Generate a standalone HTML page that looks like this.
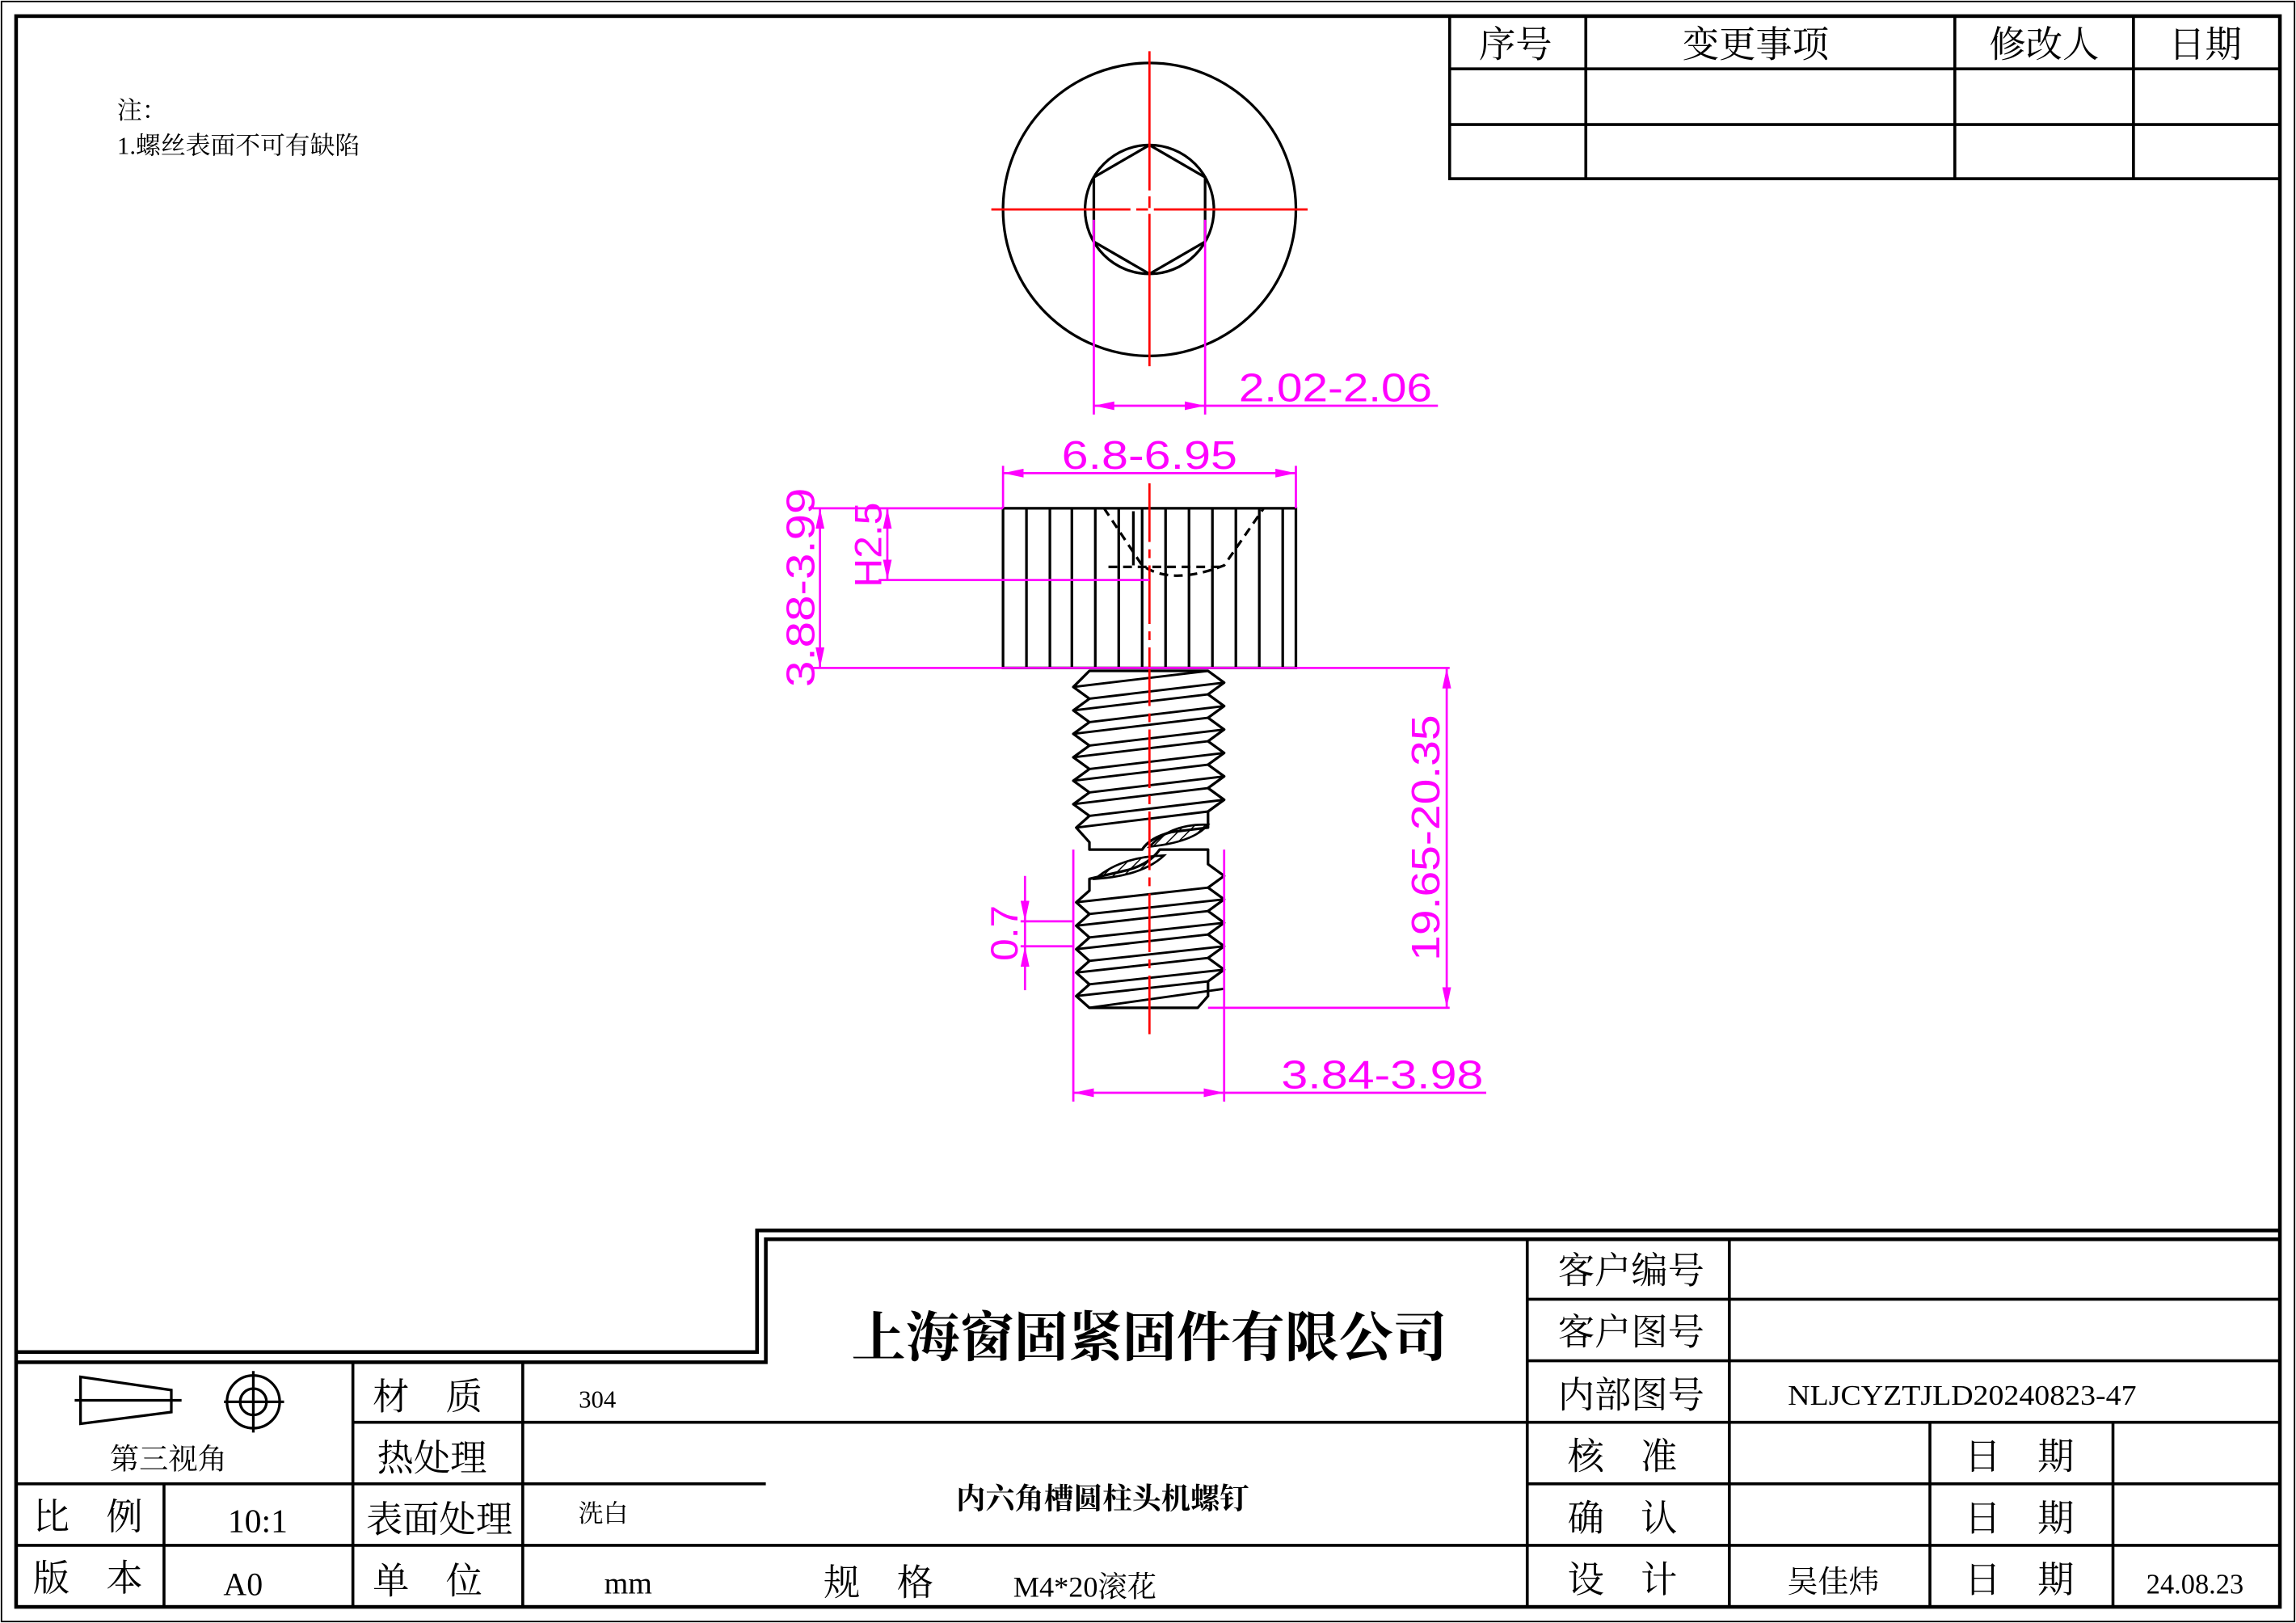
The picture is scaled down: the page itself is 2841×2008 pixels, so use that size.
<!DOCTYPE html>
<html><head><meta charset="utf-8">
<style>
html,body{margin:0;padding:0;background:#fff;}
svg{display:block;}
.cj{font-family:"Liberation Serif","Noto Serif CJK SC",serif;fill:#000;}
.dm{font-family:"Liberation Sans",sans-serif;fill:#ff00ff;}
</style></head><body>
<svg width="2841" height="2008" viewBox="0 0 1568 1108" preserveAspectRatio="none" xmlns="http://www.w3.org/2000/svg">
<defs>
<marker id="ae" viewBox="0 0 14 6" refX="14" refY="3" markerWidth="14" markerHeight="6" markerUnits="userSpaceOnUse" orient="auto"><path d="M0,0 L14,3 L0,6z" fill="#ff00ff"/></marker>
<marker id="as" viewBox="0 0 14 6" refX="0" refY="3" markerWidth="14" markerHeight="6" markerUnits="userSpaceOnUse" orient="auto"><path d="M14,0 L0,3 L14,6z" fill="#ff00ff"/></marker>
<pattern id="hatch" width="5" height="5" patternUnits="userSpaceOnUse" patternTransform="rotate(45)"><line x1="0" y1="0" x2="0" y2="5" stroke="#000" stroke-width="1.6"/></pattern>
</defs>
<rect width="1568" height="1108" fill="#fff"/>
<rect x="1" y="1" width="1566" height="1106" fill="none" stroke="#000" stroke-width="1"/>
<rect x="11" y="11" width="1546" height="1086" fill="none" stroke="#000" stroke-width="2.5"/>

<g stroke="#000" stroke-width="2" fill="none">
<rect x="990" y="11" width="567" height="111"/>
<line x1="990" y1="47" x2="1557" y2="47"/><line x1="990" y1="85" x2="1557" y2="85"/>
<line x1="1083" y1="11" x2="1083" y2="122"/><line x1="1335" y1="11" x2="1335" y2="122"/><line x1="1457" y1="11" x2="1457" y2="122"/>
</g>
<g class="cj" font-size="25" text-anchor="middle">
<text x="1035" y="39">序号</text><text x="1199" y="39">变更事项</text><text x="1396" y="39">修改人</text><text x="1506" y="39">日期</text>
</g>
<text class="cj" x="80" y="81" font-size="17">注：</text>
<text class="cj" x="80" y="105" font-size="17">1.螺丝表面不可有缺陷</text>

<g stroke="#000" stroke-width="2.5" fill="none">
<polyline points="11,923 517,923 517,840 1557,840"/>
<polyline points="11,930 523,930 523,846 1557,846"/>
</g>
<g stroke="#000" stroke-width="2" fill="none">
<line x1="11" y1="1013" x2="523" y2="1013"/>
<line x1="1043" y1="1013" x2="1557" y2="1013"/>
<line x1="11" y1="1055" x2="1557" y2="1055"/>
<line x1="241" y1="971" x2="1557" y2="971"/>
<line x1="112" y1="1013" x2="112" y2="1097"/>
<line x1="241" y1="930" x2="241" y2="1097"/>
<line x1="357" y1="930" x2="357" y2="1097"/>
<line x1="1043" y1="846" x2="1043" y2="1097"/>
<line x1="1181" y1="846" x2="1181" y2="1097"/>
<line x1="1043" y1="887" x2="1557" y2="887"/>
<line x1="1043" y1="929" x2="1557" y2="929"/>
<line x1="1318" y1="971" x2="1318" y2="1097"/>
<line x1="1443" y1="971" x2="1443" y2="1097"/>
</g>
<g stroke="#000" stroke-width="1.8" fill="none">
<polygon points="55,940 117,949 117,964 55,972"/>
<line x1="51" y1="956" x2="124" y2="956"/>
<circle cx="173" cy="957" r="18"/><circle cx="173" cy="957" r="9"/>
<line x1="153" y1="957" x2="194" y2="957"/><line x1="173" y1="936" x2="173" y2="978"/>
</g>
<g class="cj" text-anchor="middle">
<text x="115" y="1003" font-size="20">第三视角</text>
<text x="292" y="962" font-size="25">材　质</text>
<text x="295" y="1004" font-size="25">热处理</text>
<text x="300" y="1046" font-size="25">表面处理</text>
<text x="292" y="1088" font-size="25">单　位</text>
<text x="60" y="1044" font-size="25">比　例</text>
<text x="60" y="1086" font-size="25">版　本</text>
<text x="408" y="961" font-size="17">304</text>
<text x="412" y="1039" font-size="17">洗白</text>
<text x="176" y="1046" font-size="23">10:1</text>
<text x="166" y="1089" font-size="22">A0</text>
<text x="429" y="1088" font-size="21">mm</text>
<text x="785" y="926" font-size="37" font-weight="bold">上海窗固紧固件有限公司</text>
<text x="753" y="1030" font-size="20" font-weight="bold">内六角槽圆柱头机螺钉</text>
<text x="600" y="1089" font-size="25">规　格</text>
<text x="1114" y="876" font-size="25">客户编号</text>
<text x="1114" y="918" font-size="25">客户图号</text>
<text x="1114" y="961" font-size="25">内部图号</text>
<text x="1108" y="1003" font-size="25">核　准</text>
<text x="1108" y="1045" font-size="25">确　认</text>
<text x="1108" y="1087" font-size="25">设　计</text>
<text x="1379" y="1003" font-size="25">日　期</text>
<text x="1379" y="1045" font-size="25">日　期</text>
<text x="1379" y="1087" font-size="25">日　期</text>
<text x="1252" y="1087" font-size="21">吴佳炜</text>
<text x="1499" y="1088" font-size="19">24.08.23</text>
</g>
<text class="cj" x="692" y="1090" font-size="20">M4*20滚花</text>
<text class="cj" x="1221" y="959" font-size="19" textLength="238" lengthAdjust="spacingAndGlyphs">NLJCYZTJLD20240823-47</text>

<g stroke="#000" stroke-width="1.8" fill="none">
<circle cx="785" cy="143" r="100"/>
<circle cx="785" cy="143" r="44"/>
<polygon points="785,99 823,121 823,165 785,187 747,165 747,121"/>
</g>
<g stroke="#ff0000" stroke-width="1.5">
<line x1="677" y1="143" x2="893" y2="143" stroke-dasharray="95,4,8,4,200"/>
<line x1="785" y1="35" x2="785" y2="250" stroke-dasharray="95,4,8,4,200"/>
</g>
<g stroke="#ff00ff" stroke-width="1.5" fill="none">
<line x1="747" y1="150" x2="747" y2="283"/><line x1="823" y1="150" x2="823" y2="283"/>
<line x1="747" y1="277" x2="823" y2="277" marker-start="url(#as)" marker-end="url(#ae)"/>
<line x1="823" y1="277" x2="982" y2="277"/>
</g>
<text class="dm" x="846" y="274" font-size="27" textLength="132" lengthAdjust="spacingAndGlyphs">2.02-2.06</text>

<g stroke="#000" stroke-width="1.8" fill="none">
<rect x="685" y="347" width="200" height="109"/>
<path d="M701,347V456M717,347V456M732,347V456M748,347V456M764,347V456M780,347V456M796,347V456M812,347V456M828,347V456M844,347V456M860,347V456M876,347V456"/>
<path d="M754,347 L780,386 Q800,400 836,386 L863,347" stroke-dasharray="6,4"/>
<line x1="757" y1="387" x2="834" y2="387" stroke-dasharray="6,4"/>
<line x1="774" y1="349" x2="774" y2="386"/>
</g>
<g stroke="#000" stroke-width="1.8" fill="#fff" stroke-linejoin="round">
<path d="M744,458 L825,458 L836,466 L825,474 L836,482 L825,490 L836,498 L825,506 L836,514 L825,522 L836,530 L825,538 L836,546 L825,554 L825,565 L800,568 Q785,572 780,580 L744,580 L744,575 L735,565 L744,557 L733,549 L744,541 L733,533 L744,525 L733,517 L744,509 L733,501 L744,493 L733,485 L744,477 L733,469 Z"/>
<path d="M744,600 L770,594 Q785,590 792,580 L825,580 L825,590 L836,598 L825,606 L836,614 L825,622 L836,630 L825,638 L836,646 L825,654 L836,662 L825,670 L825,680 L818,688 L744,688 L735,680 L744,672 L735,664 L744,656 L735,648 L744,640 L735,632 L744,624 L735,616 L744,608 Z"/>
</g>
<g stroke="#000" stroke-width="1.6" fill="none">
<path d="M733,469 L825,458 M744,477 L836,466 M733,485 L825,474 M744,493 L836,482 M733,501 L825,490 M744,509 L836,498 M733,517 L825,506 M744,525 L836,514 M733,533 L825,522 M744,541 L836,530 M733,549 L825,538 M744,557 L836,546 M735,565 L825,554"/>
<path d="M735,616 L825,606 M744,624 L836,614 M735,632 L825,622 M744,640 L836,630 M735,648 L825,638 M744,656 L836,646 M735,664 L825,654 M744,672 L836,662 M735,680 L825,670 M744,688 L836,675"/>
</g>
<g stroke="#000" stroke-width="1.5" fill="url(#hatch)">
<path d="M785,578 Q800,562 825,563 Q815,575 785,578 Z"/>
<path d="M748,600 Q765,585 795,584 Q780,598 748,600 Z"/>
</g>
<line x1="785" y1="330" x2="785" y2="708" stroke="#ff0000" stroke-width="1.5" stroke-dasharray="40,5,6,5"/>

<g stroke="#ff00ff" stroke-width="1.5" fill="none">
<line x1="685" y1="318" x2="685" y2="347"/><line x1="885" y1="318" x2="885" y2="347"/>
<line x1="685" y1="323" x2="885" y2="323" marker-start="url(#as)" marker-end="url(#ae)"/>
<line x1="555" y1="347" x2="685" y2="347"/>
<line x1="555" y1="456" x2="990" y2="456"/>
<line x1="560" y1="347" x2="560" y2="456" marker-start="url(#as)" marker-end="url(#ae)"/>
<line x1="600" y1="396" x2="785" y2="396"/>
<line x1="606" y1="347" x2="606" y2="396" marker-start="url(#as)" marker-end="url(#ae)"/>
<line x1="825" y1="688" x2="990" y2="688"/>
<line x1="988" y1="456" x2="988" y2="688" marker-start="url(#as)" marker-end="url(#ae)"/>
<line x1="697" y1="629" x2="733" y2="629"/><line x1="697" y1="646" x2="733" y2="646"/>
<line x1="700" y1="598" x2="700" y2="629" marker-end="url(#ae)"/>
<line x1="700" y1="676" x2="700" y2="646" marker-end="url(#ae)"/>
<line x1="700" y1="629" x2="700" y2="646"/>
<line x1="733" y1="580" x2="733" y2="752"/><line x1="836" y1="580" x2="836" y2="752"/>
<line x1="733" y1="746" x2="836" y2="746" marker-start="url(#as)" marker-end="url(#ae)"/>
<line x1="836" y1="746" x2="1015" y2="746"/>
</g>
<text class="dm" x="785" y="320" font-size="27" text-anchor="middle" textLength="120" lengthAdjust="spacingAndGlyphs">6.8-6.95</text>
<text class="dm" x="875" y="743" font-size="27" textLength="138" lengthAdjust="spacingAndGlyphs">3.84-3.98</text>
<text class="dm" transform="translate(556,401) rotate(-90)" font-size="27" text-anchor="middle" textLength="136" lengthAdjust="spacingAndGlyphs">3.88-3.99</text>
<text class="dm" transform="translate(602,372) rotate(-90)" font-size="26" text-anchor="middle" textLength="58" lengthAdjust="spacingAndGlyphs">H2.5</text>
<text class="dm" transform="translate(983,572) rotate(-90)" font-size="27" text-anchor="middle" textLength="168" lengthAdjust="spacingAndGlyphs">19.65-20.35</text>
<text class="dm" transform="translate(695,637) rotate(-90)" font-size="26" text-anchor="middle" textLength="38" lengthAdjust="spacingAndGlyphs">0.7</text>
</svg>
</body></html>
